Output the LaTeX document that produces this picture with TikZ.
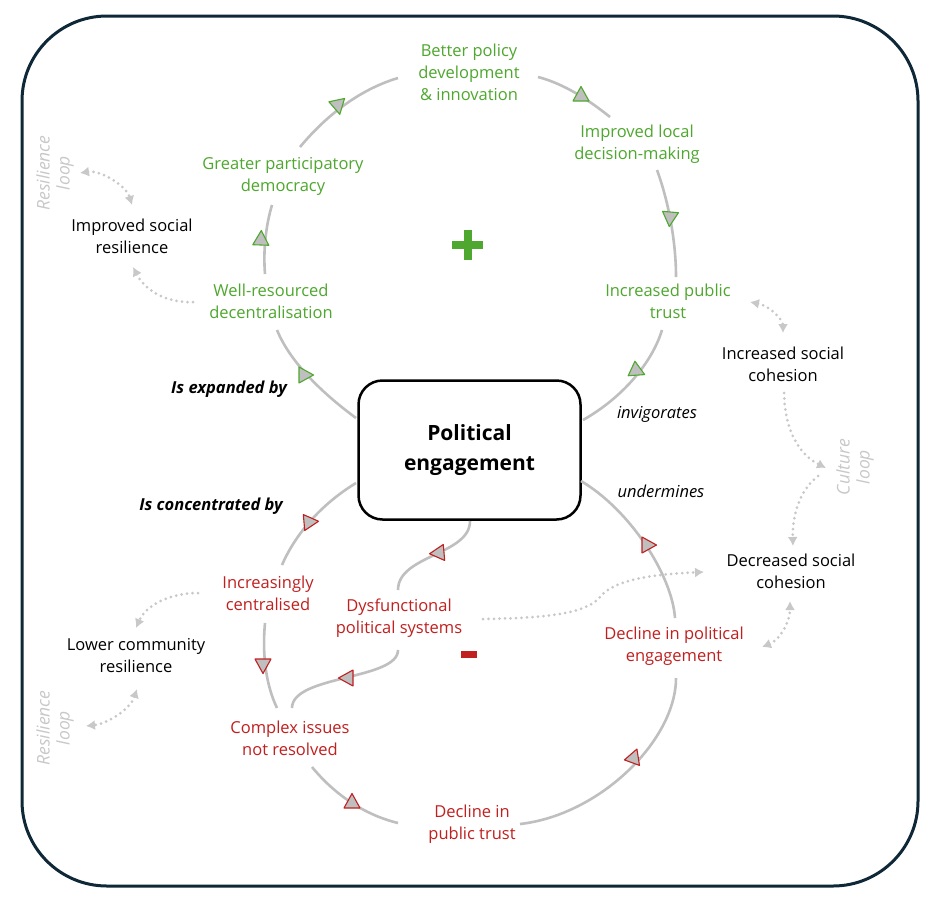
\documentclass[tikz,border=0pt]{standalone}
\usepackage{fontspec}
\setmainfont{Open Sans}
\usetikzlibrary{arrows.meta}
\definecolor{gr}{HTML}{4EA72E}
\definecolor{rd}{HTML}{C0201F}
\definecolor{ln}{HTML}{BFBFBF}
\definecolor{dt}{HTML}{C8C8C8}
\definecolor{framec}{HTML}{0F2838}
\newcommand\arrtri[4]{\draw[fill=ln, draw=#4, line width=1.1pt, line join=round, shift={(#1,#2)}, rotate=#3] (8.5pt,0pt) -- (-6pt,8pt) -- (-6pt,-8pt) -- cycle;}
\begin{document}
\begin{tikzpicture}[x=1pt,y=-1pt,
  base/.style={align=center, font=\fontsize{16.5}{22}\selectfont, inner sep=1pt},
  gtxt/.style={base, text=gr},
  rtxt/.style={base, text=rd},
  btxt/.style={base, text=black},
  ittxt/.style={base, font=\fontsize{16.5}{22}\selectfont\itshape},
  bitxt/.style={base, font=\fontsize{16.5}{22}\selectfont\bfseries\itshape},
  loopl/.style={base, text=dt, font=\fontsize{17.5}{20}\selectfont\itshape, rotate=90},
  loopline/.style={ln, line width=2.6pt},
  dots/.style={dt, line width=3pt, line cap=round, dash pattern=on 0pt off 5.5pt},
  tip/.style={-{Latex[length=9pt,width=10pt]}},
  tips/.style={{Latex[length=9pt,width=10pt]}-{Latex[length=9pt,width=10pt]}}
]
\useasboundingbox (0,0) rectangle (944,902);
\fill[white] (0,0) rectangle (944,902);
\draw[framec, line width=3pt, rounded corners=85pt] (22,16) rectangle (918,886);

% central box
\node[draw, line width=2.5pt, rounded corners=24pt, minimum width=222pt, minimum height=139pt,
      align=center, font=\fontsize{21}{30}\selectfont\bfseries] (pe) at (469.5,450) {Political\\engagement};

% text nodes
\node[gtxt] (bp) at (469,72) {Better policy\\development\\\& innovation};
\node[gtxt] (il) at (637,144) {Improved local\\decision-making};
\node[gtxt] (gp) at (283,176) {Greater participatory\\democracy};
\node[gtxt] (ip) at (668,301) {Increased public\\trust};
\node[gtxt] (wr) at (271,301) {Well-resourced\\decentralisation};
\node[btxt] (isr) at (132,236) {Improved social\\resilience};
\node[loopl] (rl1) at (55,173) {Resilience\\loop};
\node[bitxt] (exp) at (229,389) {Is expanded by};
\node[ittxt] (inv) at (657,414) {invigorates};
\node[btxt] (isc) at (783,364) {Increased social\\cohesion};
\node[loopl] (cl) at (855,467) {Culture\\loop};
\node[ittxt] (und) at (661,491) {undermines};
\node[bitxt] (conc) at (211,506) {Is concentrated by};
\node[btxt] (dsc) at (791,571) {Decreased social\\cohesion};
\node[rtxt] (ic) at (268,593) {Increasingly\\centralised};
\node[rtxt] (dps) at (399,618) {Dysfunctional\\political systems};
\node[btxt] (lcr) at (136,656) {Lower community\\resilience};
\node[rtxt] (dpe) at (674,646) {Decline in political\\engagement};
\node[rtxt] (cin) at (290,738) {Complex issues\\not resolved};
\node[loopl] (rl2) at (55,728) {Resilience\\loop};
\node[rtxt] (dpt) at (472,824) {Decline in\\public trust};

% plus and minus
\fill[gr] (452,241) rectangle (483,249);
\fill[gr] (463.5,230) rectangle (471.5,260);
\fill[rd] (461,651) rectangle (477,658);

% connector end points
\coordinate (s1a) at (356,418); \coordinate (s1b) at (277,330);
\coordinate (s2a) at (265,274); \coordinate (s2b) at (272,205);
\coordinate (s3a) at (300,147); \coordinate (s3b) at (398,78);
\coordinate (s4a) at (538,77);  \coordinate (s4b) at (610,117);
\coordinate (s5a) at (657,170); \coordinate (s5b) at (676,277);
\coordinate (s6a) at (662,330); \coordinate (s6b) at (583,420);
\coordinate (b1a) at (356,483); \coordinate (b1b) at (282,565);
\coordinate (b2a) at (265,623); \coordinate (b2b) at (277,708);
\coordinate (b3a) at (312,767); \coordinate (b3b) at (398,823);
\coordinate (b4a) at (520,824); \coordinate (b4b) at (676,678);
\coordinate (b5a) at (675,618); \coordinate (b5b) at (581,481);
\coordinate (d1a) at (398,590); \coordinate (d1b) at (470,521);
\coordinate (d2a) at (292,708); \coordinate (d2b) at (398,650);

% top loop
\draw[loopline] (s1a) .. controls (322,393) and (290,362) .. (s1b);
\draw[loopline] (s2a) .. controls (263,250) and (266,225) .. (s2b);
\draw[loopline] (s3a) .. controls (325,117) and (358,90) .. (s3b);
\draw[loopline] (s4a) .. controls (565,84) and (590,101) .. (s4b);
\draw[loopline] (s5a) .. controls (668,200) and (676,240) .. (s5b);
\draw[loopline] (s6a) .. controls (652,363) and (622,398) .. (s6b);
% bottom loop
\draw[loopline] (b1a) .. controls (320,505) and (295,535) .. (b1b);
\draw[loopline] (b2a) .. controls (262,655) and (266,685) .. (b2b);
\draw[loopline] (b3a) .. controls (335,795) and (365,815) .. (b3b);
\draw[loopline] (b4a) .. controls (600,815) and (676,740) .. (b4b);
\draw[loopline] (b5a) .. controls (672,575) and (630,510) .. (b5b);
% inner loop
\draw[loopline] (d1a) .. controls (398,555) and (470,555) .. (d1b);
\draw[loopline] (d2a) .. controls (292,675) and (398,680) .. (d2b);

% triangles
\arrtri{305}{375}{0}{gr}
\arrtri{637}{371}{-25}{gr}
\arrtri{261}{239}{88}{gr}
\arrtri{338}{106}{-78}{gr}
\arrtri{581}{95}{90}{gr}
\arrtri{670}{218}{-95}{gr}
\arrtri{648}{545}{0}{rd}
\arrtri{310}{522}{5}{rd}
\arrtri{263}{665}{-90}{rd}
\arrtri{438}{553}{185}{rd}
\arrtri{347}{678}{180}{rd}
\arrtri{352}{802}{90}{rd}
\arrtri{634}{757}{70}{rd}

% dotted links
\coordinate (r1a) at (80,173); \coordinate (r1b) at (132,205);
\coordinate (r2a) at (193,302); \coordinate (r2b) at (133,267);
\coordinate (c1a) at (750,302); \coordinate (c1b) at (783,333);
\coordinate (c2a) at (784,393); \coordinate (c2b) at (826,468);
\coordinate (c3a) at (818,476); \coordinate (c3b) at (793,546);
\coordinate (x1a) at (483,619); \coordinate (x1b) at (704,572);
\coordinate (l1a) at (762,647); \coordinate (l1b) at (790,601);
\coordinate (i1a) at (198,593); \coordinate (i1b) at (136,628);
\coordinate (i2a) at (137,689); \coordinate (i2b) at (86,726);

\draw[dots, tips] (r1a) .. controls (100,170) and (126,185) .. (r1b);
\draw[dots, tip] (r2a) .. controls (165,303) and (145,290) .. (r2b);
\draw[dots, tips] (c1a) .. controls (770,306) and (783,320) .. (c1b);
\draw[dots, tip] (c2a) .. controls (785,432) and (800,455) .. (c2b);
\draw[dots, tip] (c3a) .. controls (800,490) and (792,515) .. (c3b);
\draw[dots, tip] (x1a) .. controls (540,618) and (585,615) .. (600,597) .. controls (615,578) and (660,574) .. (x1b);
\draw[dots, tips] (l1a) .. controls (780,640) and (790,622) .. (l1b);
\draw[dots, tip] (i1a) .. controls (170,593) and (146,605) .. (i1b);
\draw[dots, tips] (i2a) .. controls (130,710) and (106,724) .. (i2b);
\end{tikzpicture}
\end{document}
